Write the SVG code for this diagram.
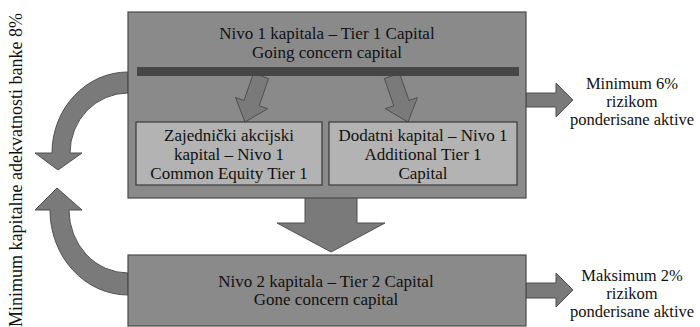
<svg xmlns="http://www.w3.org/2000/svg" width="700" height="327" viewBox="0 0 700 327">
<style>
.t{font-family:'Liberation Serif','DejaVu Serif',serif;font-size:17px;fill:#111;text-anchor:middle}
.r{font-family:'Liberation Serif','DejaVu Serif',serif;font-size:16.5px;fill:#111;text-anchor:middle}
.box{fill:#8a8a8a;stroke:#4a4a4a;stroke-width:1.2}
.sub{fill:#b3b3b3;stroke:#3a3a3a;stroke-width:1.2}
.arr{fill:#7a7a7a;stroke:#4f4f4f;stroke-width:1}
</style>
<rect width="700" height="327" fill="#fff"/>
<g id="connectors">
<path class="arr" d="M128,72 A76,81 0 0 0 52,153 L35,153 L58,170 L82,153 L70,153 A58,60 0 0 1 128,93 Z"/>
<path class="arr" d="M128,295 A78,85 0 0 1 50,210 L35,210 L57,188 L82,210 L69,210 A59,63 0 0 0 128,273 Z"/>
<polygon class="arr" points="526,93 556,93 556,83 573,100 556,117 556,107 526,107"/>
<polygon class="arr" points="526,283 556,283 556,273 573,290 556,307 556,298 526,298"/>
<polygon class="arr" points="305,197 357,197 357,223 385,223 331,252 277,223 305,223"/>
</g>
<g id="tier1">
<rect class="box" x="128" y="12" width="398" height="186"/>
<text class="t" x="327" y="39">Nivo 1 kapitala – Tier 1 Capital</text>
<text class="t" x="327" y="58">Going concern capital</text>
<polygon class="arr" points="268.6,78.6 259.2,105.7 267.7,108.7 245,122 235.5,97.5 244,100.5 253.4,73.4"/>
<polygon class="arr" points="399.6,73.4 409,100.5 417.5,97.5 408,122 385.3,108.7 393.8,105.7 384.4,78.6"/>
<rect x="137" y="67" width="382" height="9" fill="#464646"/>
</g>
<g id="cet1">
<rect class="sub" x="136" y="122" width="186" height="63"/>
<text class="t" x="229" y="141">Zajednički akcijski</text>
<text class="t" x="229" y="160">kapital – Nivo 1</text>
<text class="t" x="229" y="179">Common Equity Tier 1</text>
</g>
<g id="at1">
<rect class="sub" x="329" y="122" width="188" height="63"/>
<text class="t" x="423" y="141">Dodatni kapital – Nivo 1</text>
<text class="t" x="423" y="160">Additional Tier 1</text>
<text class="t" x="423" y="179">Capital</text>
</g>
<g id="tier2">
<rect class="box" x="128" y="255" width="398" height="71"/>
<text class="t" x="326" y="287">Nivo 2 kapitala – Tier 2 Capital</text>
<text class="t" x="326" y="305">Gone concern capital</text>
</g>
<g id="min6">
<text class="r" x="632" y="89">Minimum 6%</text>
<text class="r" x="632" y="107">rizikom</text>
<text class="r" x="632" y="125">ponderisane aktive</text>
</g>
<g id="max2">
<text class="r" x="632" y="281">Maksimum 2%</text>
<text class="r" x="632" y="299">rizikom</text>
<text class="r" x="632" y="317">ponderisane aktive</text>
</g>
<g id="left-label">
<text class="t" transform="translate(22,170) rotate(-90)" x="0" y="0" style="font-size:18px">Minimum kapitalne adekvatnosti banke 8%</text>
</g>
</svg>
